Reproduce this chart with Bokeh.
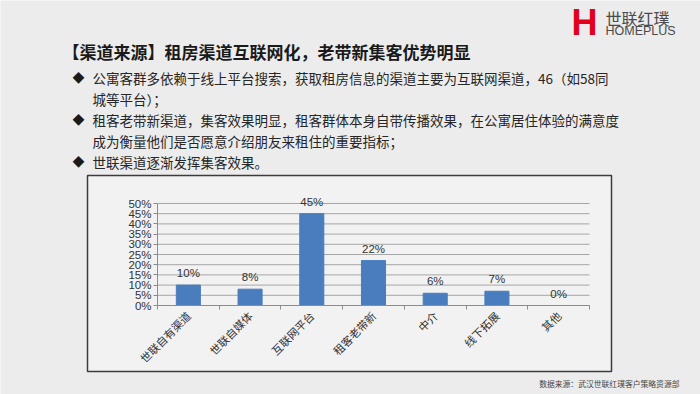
from math import pi
from bokeh.plotting import figure
from bokeh.models import (ColumnDataSource, Range1d, LinearAxis, FixedTicker, LabelSet)
from bokeh.core.properties import value
from bokeh.embed import file_html
from bokeh.resources import INLINE

# ---------------- data ----------------
categories = ["世联自有渠道", "世联自媒体", "互联网平台", "租客老带新", "中介", "线下拓展", "其他"]
values = [10, 8, 45, 22, 6, 7, 0]
value_labels = ["10%", "8%", "45%", "22%", "6%", "7%", "0%"]
y_ticks = [0, 5, 10, 15, 20, 25, 30, 35, 40, 45, 50]
y_tick_labels = ["0%", "5%", "10%", "15%", "20%", "25%", "30%", "35%", "40%", "45%", "50%"]

title_text = "【渠道来源】租房渠道互联网化，老带新集客优势明显"
bullet_marks = ["◆", "", "◆", "", "◆"]
bullet_lines = [
    "公寓客群多依赖于线上平台搜索，获取租房信息的渠道主要为互联网渠道，46（如58同",
    "城等平台）；",
    "租客老带新渠道，集客效果明显，租客群体本身自带传播效果，在公寓居住体验的满意度",
    "成为衡量他们是否愿意介绍朋友来租住的重要指标；",
    "世联渠道逐渐发挥集客效果。",
]
footer_text = "数据来源：武汉世联红璞客户策略资源部"
logo_mark = "H"
logo_cn = "世联红璞"
logo_en = "HOMEPLUS"

# ---------------- style / layout (pixels) ----------------
BG = "#ececec"
BOX_BG = "#f2f2f2"
BOX_LINE = "#3c3c3c"
BAR = "#4a7dbd"
GRID = "#a6a6a6"
AXIS = "#8c8c8c"
TXT = "#262626"
CJK = "Noto Sans CJK SC"
LAT = "Liberation Sans"

W, H = 700, 394
BOX_L, BOX_R, BOX_T, BOX_B = 87, 611, 175, 371
PLOT_L, PLOT_R, PLOT_T, PLOT_B = 157, 589, 203, 305   # plot area: 0..50% vertically

n = len(categories)
ux = (PLOT_R - PLOT_L) / n                 # px per category
uy = (PLOT_B - PLOT_T) / float(y_ticks[-1])  # px per percent
cx_range = Range1d(-PLOT_L / ux, n + (W - PLOT_R) / ux)
cy_range = Range1d(-(H - PLOT_B) / uy, PLOT_B / uy)

p = figure(width=W, height=H, x_range=Range1d(0, W), y_range=Range1d(H, 0),
           output_backend="svg", toolbar_location=None,
           x_axis_location=None, y_axis_location=None, min_border=0,
           background_fill_color=BG, border_fill_color=BG, outline_line_color=None)
p.xgrid.visible = False
p.ygrid.visible = False
p.extra_x_ranges = {"cx": cx_range}
p.extra_y_ranges = {"cy": cy_range}


def txt(x, y, text, size, color=TXT, font=CJK, bold=False, align="left", baseline="middle"):
    p.text(x=[x], y=[y], text=[text], text_font=value(font), text_font_size=size,
           text_color=color, text_font_style="bold" if bold else "normal",
           text_align=align, text_baseline=baseline)


# chart box
p.quad(left=[BOX_L], right=[BOX_R], top=[BOX_T], bottom=[BOX_B],
       fill_color=BOX_BG, line_color=BOX_LINE, line_width=1.5)

# header
txt(62, 51, title_text, "17px", color="#1a1a1a", bold=True)
line_y = [77, 98, 119, 140, 161]
for mark, line, y in zip(bullet_marks, bullet_lines, line_y):
    if mark:
        txt(78, y, mark, "12px", color="#1a1a1a", align="center")
    txt(92, y, line, "13.5px")
txt(584, 22, logo_mark, "36px", color="#e3001b", font=LAT, bold=True, align="center")
txt(605, 17, logo_cn, "16px", color="#4a4a4a")
txt(605, 30, logo_en, "12.5px", color="#4a4a4a", font=LAT)

# footer
txt(679, 383, footer_text, "7.8px", color="#444444", align="right")

# ---------------- chart ----------------
centres = [i + 0.5 for i in range(n)]
src = ColumnDataSource(dict(xc=centres, cat=categories, val=values, lbl=value_labels))

# horizontal grid lines at the y ticks
p.segment(x0=[0] * len(y_ticks), x1=[n] * len(y_ticks), y0=y_ticks, y1=y_ticks,
          line_color=GRID, line_width=1, x_range_name="cx", y_range_name="cy")

p.vbar(x="xc", top="val", width=0.39, source=src, fill_color=BAR, line_color=BAR,
       line_width=1, x_range_name="cx", y_range_name="cy")
p.add_layout(LabelSet(x="xc", y="val", text="lbl", source=src, text_align="center",
                      text_baseline="bottom", y_offset=6, text_font=value(LAT),
                      text_font_size=value("11.5px"), text_color="#333333",
                      x_range_name="cx", y_range_name="cy"))

yax = LinearAxis(x_range_name="cx", y_range_name="cy", fixed_location=0,
                 ticker=FixedTicker(ticks=y_ticks), bounds=(y_ticks[0], y_ticks[-1]),
                 major_label_overrides=dict(zip(y_ticks, y_tick_labels)),
                 axis_line_color=AXIS, major_tick_line_color=AXIS,
                 major_tick_in=0, major_tick_out=4, minor_tick_line_color=None,
                 major_label_standoff=2, major_label_text_font=LAT,
                 major_label_text_font_size="11.5px", major_label_text_color="#333333")
p.add_layout(yax, "left")

xax = LinearAxis(x_range_name="cx", y_range_name="cy", fixed_location=0,
                 ticker=FixedTicker(ticks=centres, minor_ticks=list(range(n + 1))),
                 bounds=(0, n),
                 major_label_overrides=dict(zip(centres, categories)),
                 axis_line_color=AXIS, major_tick_line_color=None,
                 minor_tick_line_color=AXIS, minor_tick_in=0, minor_tick_out=4,
                 major_tick_in=0, major_tick_out=0,
                 major_label_orientation=pi / 4, major_label_standoff=4,
                 major_label_text_font=CJK, major_label_text_font_size="11px",
                 major_label_text_color="#333333")
p.add_layout(xax, "below")

open("out.html", "w").write(file_html(p, INLINE))
